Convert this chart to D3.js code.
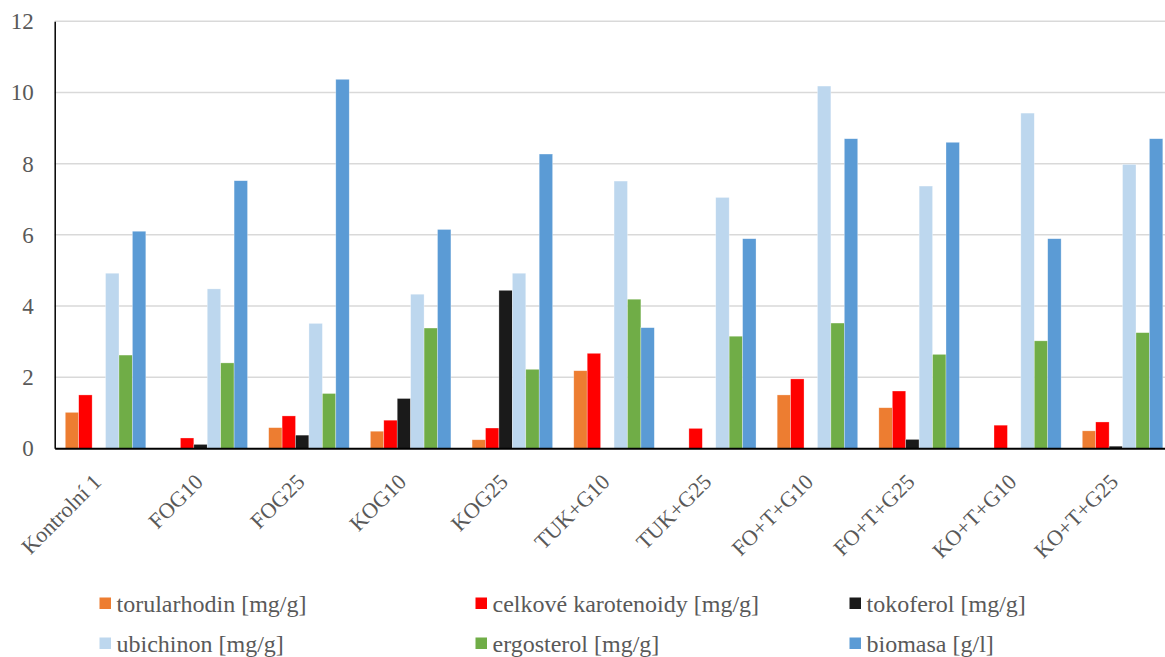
<!DOCTYPE html>
<html>
<head>
<meta charset="utf-8">
<script src="https://cdn.jsdelivr.net/npm/d3@7"></script>
<style>
  html, body { margin: 0; padding: 0; background: #fff; }
  svg { display: block; }
  svg text { font-family: "Liberation Serif", "Times New Roman", serif; fill: #595959; }
</style>
</head>
<body>
<svg id="chart" width="1165" height="657"></svg>
<script>
// Cultivation variants
const categories = ["Kontrolní 1", "FOG10", "FOG25", "KOG10", "KOG25", "TUK+G10",
                    "TUK+G25", "FO+T+G10", "FO+T+G25", "KO+T+G10", "KO+T+G25"];

// Measured quantities per variant
const torularhodin = [1.01, 0, 0.58, 0.48, 0.24, 2.18, 0, 1.50, 1.14, 0, 0.49];
const karotenoidy  = [1.50, 0.29, 0.91, 0.79, 0.57, 2.67, 0.56, 1.95, 1.61, 0.65, 0.74];
const tokoferol    = [0, 0.11, 0.37, 1.40, 4.44, 0, 0, 0, 0.25, 0, 0.06];
const ubichinon    = [4.92, 4.48, 3.51, 4.33, 4.92, 7.51, 7.05, 10.18, 7.37, 9.42, 7.98];
const ergosterol   = [2.62, 2.40, 1.54, 3.38, 2.22, 4.19, 3.15, 3.52, 2.64, 3.02, 3.25];
const biomasa      = [6.10, 7.52, 10.37, 6.15, 8.27, 3.39, 5.89, 8.70, 8.60, 5.89, 8.70];

const seriesNames = ["torularhodin [mg/g]", "celkové karotenoidy [mg/g]", "tokoferol [mg/g]",
                     "ubichinon [mg/g]", "ergosterol [mg/g]", "biomasa [g/l]"];
const seriesColors = ["#ED7D31", "#FF0000", "#1A1A1A", "#BDD7EE", "#70AD47", "#5B9BD5"];
const yTicks = [0, 2, 4, 6, 8, 10, 12];

const seriesValues = [torularhodin, karotenoidy, tokoferol, ubichinon, ergosterol, biomasa];

const FONT = "'Liberation Serif', 'Times New Roman', serif";
const svg = d3.select("#chart");
const plotLeft = 54.7, plotRight = 1173.4, plotTop = 21.3, plotBottom = 448.3;

const x = d3.scaleBand().domain(categories).range([plotLeft, plotRight]).paddingInner(0.208).paddingOuter(0.104);
const xs = d3.scaleBand().domain(d3.range(seriesNames.length)).range([0, x.bandwidth()]);
const y = d3.scaleLinear().domain([0, 12]).range([plotBottom, plotTop]);

// Horizontal gridlines
svg.append("g").selectAll("line").data(yTicks.filter(d => d > 0)).join("line")
  .attr("x1", plotLeft).attr("x2", 1165)
  .attr("y1", d => y(d)).attr("y2", d => y(d))
  .attr("stroke", "#D9D9D9").attr("stroke-width", 1.5);

// Bars
const groups = svg.append("g").selectAll("g").data(categories).join("g")
  .attr("transform", d => `translate(${x(d)},0)`);
groups.selectAll("rect")
  .data((c, i) => seriesValues.map((vals, s) => ({ s, v: vals[i] })))
  .join("rect")
  .attr("x", d => xs(d.s))
  .attr("width", xs.bandwidth())
  .attr("y", d => y(d.v))
  .attr("height", d => y(0) - y(d.v))
  .attr("fill", d => seriesColors[d.s])
  .attr("stroke", "#fff").attr("stroke-opacity", 0.5).attr("stroke-width", 0.6);

// Y axis
const yAxis = svg.append("g").attr("transform", `translate(${plotLeft},0)`)
  .call(d3.axisLeft(y).tickValues(yTicks).tickSize(0).tickPadding(21));
yAxis.attr("font-family", null).attr("font-size", null);
yAxis.select(".domain").attr("stroke", "#000").attr("stroke-width", 1.5);
yAxis.selectAll("text").style("font-size", "23px").style("font-family", FONT).style("fill", "#595959");

// X axis
const xAxis = svg.append("g").attr("transform", `translate(0,${plotBottom})`)
  .call(d3.axisBottom(x).tickSize(0).tickFormat(""));
xAxis.select(".domain").attr("stroke", "#000").attr("stroke-width", 2);

// Rotated category labels
svg.append("g").selectAll("text").data(categories).join("text")
  .attr("text-anchor", "end")
  .attr("transform", d => `translate(${x(d) + x.bandwidth() / 2 - 3},${plotBottom + 35}) rotate(-45)`)
  .style("font-size", "22px").style("font-family", FONT)
  .text(d => d);

// Legend
const legendPos = [[99.5, 611.5], [475.5, 611.5], [849.5, 611.5],
                   [99.5, 651.5], [475.5, 651.5], [849.5, 651.5]];
const legend = svg.append("g").selectAll("g").data(seriesNames).join("g")
  .attr("transform", (d, i) => `translate(${legendPos[i][0]},${legendPos[i][1]})`);
legend.append("rect").attr("x", 0).attr("y", -14).attr("width", 11.5).attr("height", 11.5)
  .attr("fill", (d, i) => seriesColors[i]);
legend.append("text").attr("x", 17).attr("y", 0)
  .style("font-size", "24px").style("font-family", FONT).text(d => d);
</script>
</body>
</html>
